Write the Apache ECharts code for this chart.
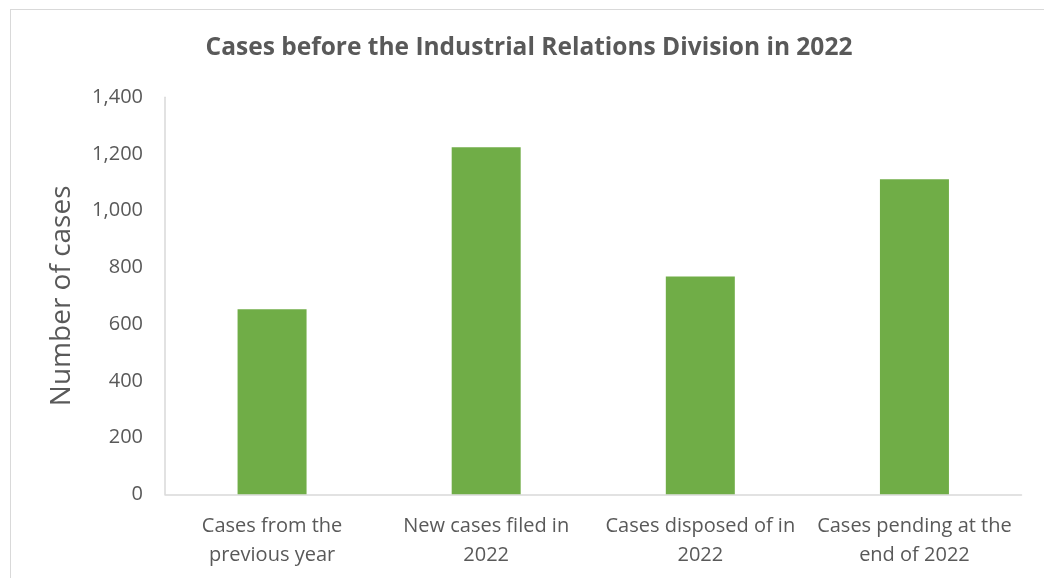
<!DOCTYPE html>
<html>
<head>
<meta charset="utf-8">
<script src="https://cdn.jsdelivr.net/npm/echarts@6/dist/echarts.min.js"></script>
<style>
  html, body { margin: 0; padding: 0; background: #fff; }
  #frame { position: absolute; left: 10px; top: 9px; width: 1040px; height: 580px; border: 1px solid #d9d9d9; box-sizing: border-box; }
  #chart { position: absolute; left: 0; top: 0; width: 1044px; height: 578px; }
</style>
</head>
<body>
<div id="frame"></div>
<div id="chart"></div>
<script>
// Industrial Relations Division caseload, 2022
const categories = [
  'Cases from the\nprevious year',
  'New cases filed in\n2022',
  'Cases disposed of in\n2022',
  'Cases pending at the\nend of 2022'
];
const caseCounts = [653, 1224, 768, 1111];
const yTicks = [0, 200, 400, 600, 800, 1000, 1200, 1400];

const textColor = '#595959';
const fontFamily = '"Open Sans", "Noto Sans", sans-serif';

const chart = echarts.init(document.getElementById('chart'), null, { renderer: 'canvas' });
chart.setOption({
  animation: false,
  title: {
    text: 'Cases before the Industrial Relations Division in 2022',
    left: 524,
    textAlign: 'center',
    top: 31,
    textStyle: { color: textColor, fontSize: 24.5, fontWeight: 'bold', fontFamily: fontFamily }
  },
  grid: { left: 165, right: 22.5, top: 97.3, bottom: 578 - 494.3, containLabel: false },
  xAxis: {
    type: 'category',
    data: categories,
    axisLine: { lineStyle: { color: '#d9d9d9', width: 1.5 } },
    axisTick: { show: false },
    axisLabel: {
      color: textColor, fontSize: 20, fontFamily: fontFamily,
      lineHeight: 29, margin: 17, interval: 0
    }
  },
  yAxis: {
    type: 'value',
    min: yTicks[0],
    max: yTicks[yTicks.length - 1],
    interval: 200,
    name: 'Number of cases',
    nameLocation: 'middle',
    nameGap: 89,
    nameTextStyle: { color: textColor, fontSize: 28, fontFamily: fontFamily },
    axisLine: { show: true, lineStyle: { color: '#d9d9d9', width: 1.5 } },
    axisTick: { show: false },
    splitLine: { show: false },
    axisLabel: {
      color: textColor, fontSize: 20, fontFamily: fontFamily, margin: 22,
      formatter: v => v.toLocaleString('en-US')
    }
  },
  series: [{
    type: 'bar',
    data: caseCounts,
    barWidth: 69,
    itemStyle: { color: '#70ad47' }
  }]
});
</script>
</body>
</html>
